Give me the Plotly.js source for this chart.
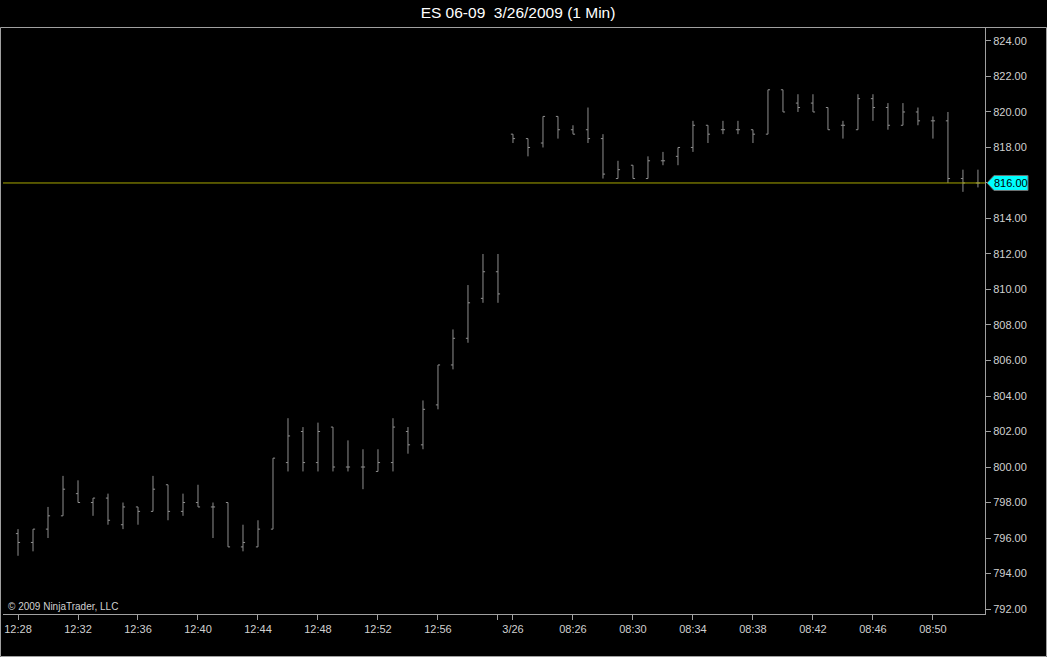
<!DOCTYPE html>
<html>
<head>
<meta charset="utf-8">
<script src="https://cdn.plot.ly/plotly-3.0.1.min.js"></script>
<style>
  html, body { margin: 0; padding: 0; background: #000; }
  #chart { width: 1047px; height: 657px; }
</style>
</head>
<body>
<div id="chart"></div>
<script>
// 1-minute bars (bar time labels)
const times = [
  '12:28','12:29','12:30','12:31','12:32','12:33','12:34','12:35','12:36','12:37',
  '12:38','12:39','12:40','12:41','12:42','12:43','12:44','12:45','12:46','12:47',
  '12:48','12:49','12:50','12:51','12:52','12:53','12:54','12:55','12:56','12:57',
  '12:58','12:59','13:00',
  '08:22','08:23','08:24','08:25','08:26','08:27','08:28','08:29','08:30','08:31',
  '08:32','08:33','08:34','08:35','08:36','08:37','08:38','08:39','08:40','08:41',
  '08:42','08:43','08:44','08:45','08:46','08:47','08:48','08:49','08:50','08:51',
  '08:52','08:53'
];
const openP = [
  796.25,795.75,796.5,797.25,798.5,798.0,798.25,796.75,797.75,797.5,
  799.0,797.5,798.0,797.75,798.0,795.5,795.5,796.5,800.25,802.0,
  800.25,802.25,800.0,800.0,799.75,800.25,802.0,801.25,803.5,805.75,
  807.25,809.5,811.0,
  818.75,818.5,818.25,819.75,819.0,819.0,818.5,816.25,817.0,816.25,
  817.25,817.5,818.0,819.25,819.0,819.0,819.0,818.75,821.25,820.5,
  820.5,820.25,819.25,819.0,820.75,820.25,819.25,820.0,819.5,819.5,
  816.25,816.0
];
const highP = [
  796.5,796.5,797.75,799.5,799.25,798.25,798.5,798.0,797.75,799.5,
  799.0,798.5,799.0,798.0,798.0,796.75,797.0,800.5,802.75,802.25,
  802.5,802.25,801.5,801.0,801.0,802.75,802.25,803.75,805.75,807.75,
  810.25,812.0,812.0,
  818.75,818.5,819.75,819.75,819.25,820.25,818.75,817.25,817.0,817.5,
  817.75,818.0,819.5,819.25,819.5,819.5,819.0,821.25,821.25,821.0,
  821.0,820.25,819.5,821.0,821.0,820.5,820.5,820.25,819.75,820.0,
  816.75,816.75
];
const lowP = [
  795.0,795.25,796.0,797.25,798.0,797.25,796.75,796.5,796.75,797.5,
  797.0,797.25,797.75,796.0,795.5,795.25,795.5,796.5,799.75,799.75,
  799.75,799.75,799.75,798.75,799.75,799.75,800.75,801.0,803.25,805.5,
  807.0,809.25,809.25,
  818.25,817.5,818.0,818.5,818.75,818.25,816.25,816.25,816.25,816.25,
  817.0,817.0,817.75,818.25,818.75,818.75,818.25,818.75,820.0,820.0,
  820.0,819.0,818.5,819.0,819.5,819.0,819.25,819.25,818.5,816.0,
  815.5,815.75
];
const closeP = [
  795.75,796.5,797.25,798.75,798.0,798.25,797.0,797.75,797.5,798.75,
  797.5,798.0,797.75,797.75,795.5,795.75,796.5,800.5,801.75,800.25,
  802.0,800.0,800.0,800.0,800.25,802.25,801.25,803.25,805.75,807.25,
  809.25,811.0,809.75,
  818.5,818.0,819.75,819.0,818.75,818.5,816.5,816.75,816.25,817.25,
  817.25,818.0,819.25,818.75,819.0,819.0,818.75,821.25,820.0,820.25,
  820.0,819.0,819.25,820.75,820.25,819.25,820.0,819.5,819.5,816.25,
  816.0,816.0
];
const tickTimes  = ['12:28','12:32','12:36','12:40','12:44','12:48','12:52','12:56','13:00',
                    '08:22','08:26','08:30','08:34','08:38','08:42','08:46','08:50'];
const tickLabels = ['12:28','12:32','12:36','12:40','12:44','12:48','12:52','12:56','',
                    '3/26','08:26','08:30','08:34','08:38','08:42','08:46','08:50'];
const priceTicks = [792,794,796,798,800,802,804,806,808,810,812,814,816,818,820,822,824];

const lastPrice = closeP[closeP.length - 1];
const FONT = '"Liberation Sans", Arial, sans-serif';
const barColor = '#8f8f8f';
const axisColor = '#a0a0a0';
const labelColor = '#d0d0d0';

const trace = {
  type: 'ohlc',
  x: times,
  open: openP, high: highP, low: lowP, close: closeP,
  increasing: { line: { color: barColor, width: 1 } },
  decreasing: { line: { color: barColor, width: 1 } },
  tickwidth: 0.14,
  hoverinfo: 'skip',
  showlegend: false
};

// pixel helpers for paper-referenced decorations (plot area: x 3..985, y 28..614)
const L = 3, R = 62, T = 28, B = 43, W = 1047, H = 657;
const pw = W - L - R, ph = H - T - B;
const px = X => (X - L) / pw;
const py = Y => (H - B - Y) / ph;

const yr = [791.72, 824.73];
const ppp = (yr[1] - yr[0]) / ph; // price per pixel
const bh = 7.5 * ppp;

const arrowPath = 'M ' + px(987) + ' ' + lastPrice +
  ' L ' + px(994) + ' ' + (lastPrice + bh) +
  ' L ' + px(1028) + ' ' + (lastPrice + bh) +
  ' L ' + px(1028) + ' ' + (lastPrice - bh) +
  ' L ' + px(994) + ' ' + (lastPrice - bh) + ' Z';

const layout = {
  width: W, height: H,
  paper_bgcolor: '#000000',
  plot_bgcolor: '#000000',
  margin: { l: L, r: R, t: T, b: B, pad: 0 },
  showlegend: false,
  hovermode: false,
  dragmode: false,
  font: { family: FONT, color: labelColor, size: 11 },
  title: {
    text: 'ES 06-09&nbsp;&nbsp;3/26/2009 (1 Min)',
    font: { family: FONT, size: 15.5, color: '#ffffff' },
    xref: 'container', x: 518 / W, xanchor: 'center',
    yref: 'container', y: 1 - 13 / H, yanchor: 'middle'
  },
  xaxis: {
    type: 'category',
    range: [-1, 64.47],
    rangeslider: { visible: false },
    showgrid: false, zeroline: false,
    showline: true, linecolor: axisColor, linewidth: 1,
    ticks: 'outside', ticklen: 5, tickcolor: axisColor, tickwidth: 1,
    tickmode: 'array', tickvals: tickTimes, ticktext: tickLabels,
    tickfont: { family: FONT, size: 11, color: labelColor },
    fixedrange: true
  },
  yaxis: {
    side: 'right',
    range: yr,
    showgrid: false, zeroline: false,
    showline: true, linecolor: axisColor, linewidth: 1,
    ticks: 'outside', ticklen: 5, tickcolor: axisColor, tickwidth: 1,
    tickmode: 'array', tickvals: priceTicks,
    ticktext: priceTicks.map(v => v.toFixed(2)),
    tickfont: { family: FONT, size: 11, color: labelColor },
    fixedrange: true
  },
  shapes: [
    // panel frame
    { type: 'rect', xref: 'paper', yref: 'paper',
      x0: px(0.5), x1: px(1046.5), y0: py(656.5), y1: py(27.5),
      line: { color: axisColor, width: 1 }, fillcolor: 'rgba(0,0,0,0)', layer: 'below' },
    // last price line
    { type: 'line', xref: 'paper', yref: 'y', x0: 0, x1: 1, y0: lastPrice, y1: lastPrice,
      line: { color: '#a6a600', width: 1 }, layer: 'above' },
    // last price marker
    { type: 'path', xref: 'paper', yref: 'y', path: arrowPath,
      fillcolor: '#00ffff', line: { color: '#707070', width: 1 }, layer: 'above' }
  ],
  annotations: [
    { xref: 'paper', yref: 'y', x: px(1011), y: lastPrice, xanchor: 'center', yanchor: 'middle',
      text: lastPrice.toFixed(2), showarrow: false,
      font: { family: FONT, size: 11, color: '#000000' } },
    { xref: 'paper', yref: 'paper', x: px(6), y: py(606), xanchor: 'left', yanchor: 'middle',
      text: '© 2009 NinjaTrader, LLC', showarrow: false,
      font: { family: FONT, size: 10, color: labelColor } }
  ]
};

Plotly.newPlot('chart', [trace], layout, { displayModeBar: false, staticPlot: true });
</script>
</body>
</html>
